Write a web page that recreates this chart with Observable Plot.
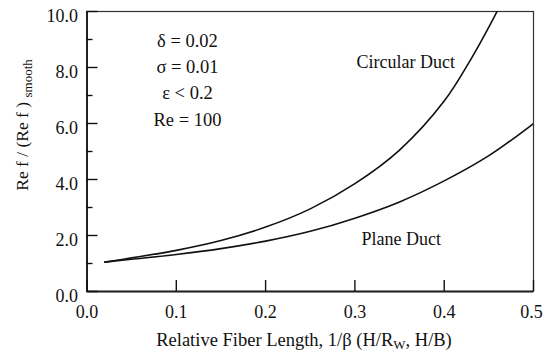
<!DOCTYPE html>
<html><head><meta charset="utf-8">
<script src="https://cdn.jsdelivr.net/npm/d3@7"></script>
<script src="https://cdn.jsdelivr.net/npm/@observablehq/plot@0.6"></script>
<style>body{margin:0;background:#fff} svg{display:block} svg text{font-family:'Liberation Serif','DejaVu Serif',serif !important}</style>
</head><body><div id="chart"></div>
<script>
// Circular duct curve
const xCirc = [0.02, 0.05, 0.1, 0.15, 0.2, 0.25, 0.3, 0.35, 0.4, 0.43, 0.46, 0.47];
const yCirc = [1.05, 1.2, 1.47, 1.82, 2.3, 2.95, 3.85, 5.05, 6.8, 8.3, 10.05, 10.7];
// Plane duct curve
const xPlane = [0.02, 0.05, 0.1, 0.15, 0.2, 0.25, 0.3, 0.35, 0.4, 0.45, 0.5];
const yPlane = [1.05, 1.15, 1.32, 1.53, 1.8, 2.15, 2.62, 3.2, 3.95, 4.85, 6.0];
const xTicks = [0.0, 0.1, 0.2, 0.3, 0.4];
const xLastTick = [0.5];
const yTicks = [0, 2, 4, 6, 8, 10];
const yMinor = [1, 3, 5, 7, 9];
const params = ["δ = 0.02", "σ = 0.01", "ε < 0.2", "Re = 100"];
const paramY = [8.94, 8.01, 7.08, 6.14];
const curveLabels = ["Circular Duct", "Plane Duct"];
const curveLabelX = [0.357, 0.352];
const curveLabelY = [8.2, 1.85];

const circ = xCirc.map((x, i) => ({x, y: yCirc[i]}));
const plane = xPlane.map((x, i) => ({x, y: yPlane[i]}));
const paramData = params.map((t, i) => ({t, y: paramY[i]}));
const labData = curveLabels.map((t, i) => ({t, x: curveLabelX[i], y: curveLabelY[i]}));

const font = "'Liberation Serif', 'DejaVu Serif', serif";
const ink = "#111";
const fmt = d3.format(".1f");
const chart = Plot.plot({
  width: 543, height: 353,
  marginLeft: 86.5, marginRight: 10, marginTop: 11, marginBottom: 62,
  style: {fontFamily: font, fontSize: "16px", color: ink, background: "#fff"},
  x: {domain: [0, 0.5]},
  y: {domain: [0, 10]},
  marks: [
    Plot.frame({stroke: "#333", strokeWidth: 1.2}),
    Plot.ruleX([0], {stroke: "#222", strokeWidth: 2}),
    Plot.ruleY([0], {stroke: "#222", strokeWidth: 2}),
    Plot.axisY(yTicks, {tickSize: -11, tickFormat: () => "", label: null, strokeWidth: 1.4}),
    Plot.axisY(yMinor, {tickSize: -6, tickFormat: () => "", label: null, strokeWidth: 1.4}),
    Plot.axisY(yTicks, {tickSize: 0, tickPadding: 9, tickFormat: fmt, label: null, dy: 4.5, fontSize: 18, fill: ink}),
    Plot.axisX(xTicks.concat(xLastTick), {tickSize: -11, tickFormat: () => "", label: null, strokeWidth: 1.4}),
    Plot.axisX(xTicks, {tickSize: 0, tickPadding: 14, tickFormat: fmt, label: null, fontSize: 18, fill: ink}),
    Plot.axisX(xLastTick, {tickSize: 0, tickPadding: 14, tickFormat: fmt, label: null, fontSize: 18, fill: ink, dx: -2}),
    Plot.line(circ, {x: "x", y: "y", curve: "catmull-rom", stroke: "#111", strokeWidth: 1.6, clip: true}),
    Plot.line(plane, {x: "x", y: "y", curve: "catmull-rom", stroke: "#111", strokeWidth: 1.6, clip: true}),
    Plot.text(paramData, {x: 0.1125, y: "y", text: "t", fontSize: 18.5, fill: ink}),
    Plot.text(labData, {x: "x", y: "y", text: "t", fontSize: 18, fill: ink})
  ]
});
const svg = d3.select(chart);
const xl = svg.append("text").attr("x", 304).attr("y", 346).attr("text-anchor", "middle")
  .attr("font-family", font).attr("font-size", 18.5).attr("fill", ink);
xl.append("tspan").text("Relative Fiber Length, 1/β (H/R");
xl.append("tspan").attr("font-size", 13).attr("dy", 3).text("W");
xl.append("tspan").attr("dy", -3).text(", H/B)");
const yl = svg.append("text").attr("transform", "translate(28,125) rotate(-90)").attr("text-anchor", "middle")
  .attr("font-family", font).attr("font-size", 17.5).attr("fill", ink);
yl.append("tspan").text("Re f / (Re f ) ");
yl.append("tspan").attr("font-size", 13).attr("dy", 4).text("smooth");
document.getElementById("chart").appendChild(chart);
</script></body></html>
